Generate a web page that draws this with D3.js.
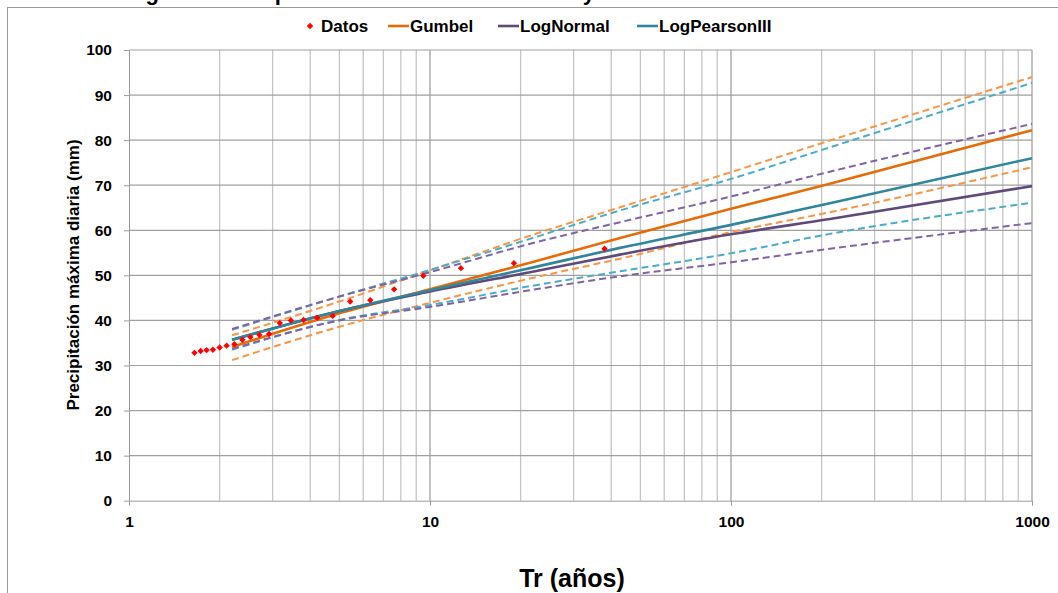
<!DOCTYPE html>
<html>
<head>
<meta charset="utf-8">
<script src="https://cdn.jsdelivr.net/npm/d3@7"></script>
<style>
  body { margin: 0; background: #fff; }
  svg { font-family: "Liberation Sans", Arial, sans-serif; font-weight: bold; }
</style>
</head>
<body>
<svg width="1058" height="593"></svg>
<script>
// observed data (Weibull plotting positions)
const datosT = [1.65, 1.73, 1.81, 1.90, 2.00, 2.11, 2.24, 2.38, 2.53, 2.71, 2.92, 3.17, 3.45, 3.80, 4.22, 4.75, 5.43, 6.33, 7.60, 9.50, 12.67, 19.00, 38.00]
const datosP = [32.8, 33.2, 33.4, 33.5, 34.0, 34.4, 34.7, 35.7, 36.3, 36.8, 37.0, 39.4, 40.0, 40.1, 40.6, 41.0, 44.2, 44.5, 46.9, 49.9, 51.6, 52.7, 55.9]

// fitted curves, read at these return periods
const fitT = [2.2, 5, 10, 21.5, 42.8, 100, 213, 1000]
const gumbel      = [34.1, 41.6, 46.9, 52.8, 58.3, 64.8, 70.3, 82.2]
const gumbelUp    = [36.7, 44.2, 51.1, 58.8, 65.1, 72.9, 79.9, 94.0]
const gumbelLo    = [31.2, 38.6, 43.9, 49.3, 53.7, 59.6, 64.0, 74.0]
const logNormal   = [35.7, 42.1, 46.4, 50.7, 54.6, 59.1, 62.5, 69.8]
const logNormalUp = [38.1, 45.3, 50.7, 57.0, 61.8, 67.5, 73.0, 83.6]
const logNormalLo = [33.7, 40.0, 43.0, 46.7, 49.8, 52.9, 55.9, 61.6]
const lp3         = [35.7, 42.1, 46.7, 51.6, 56.1, 61.2, 66.0, 76.0]
const lp3Up       = [37.9, 45.3, 51.2, 58.1, 64.4, 71.4, 78.4, 92.7]
const lp3Lo       = [33.5, 40.1, 43.4, 47.6, 50.9, 54.9, 59.2, 66.1]

const yTicks = [0, 10, 20, 30, 40, 50, 60, 70, 80, 90, 100]
const xTicks = [1, 10, 100, 1000]
const xMinor = [2, 3, 4, 5, 6, 7, 8, 9, 20, 30, 40, 50, 60, 70, 80, 90, 200, 300, 400, 500, 600, 700, 800, 900]

const svg = d3.select("svg")

// chart frame
svg.append("rect")
  .attr("x", 7.5).attr("y", 7.5)
  .attr("width", 1100).attr("height", 700)
  .attr("fill", "none").attr("stroke", "#9a9a9a")

// title (mostly cut off above the picture)
svg.append("text")
  .attr("x", 126).attr("y", -0.5)
  .style("font-size", "22px")
  .text("Figura 4. Tiempo de retorno vs Pmax diaria y distribuciones")

const x = d3.scaleLog().domain([1, 1000]).range([129, 1032])
const y = d3.scaleLinear().domain([0, 100]).range([500.7, 50])

// gridlines
svg.append("g").selectAll("line")
  .data(xMinor).enter().append("line")
  .attr("x1", d => x(d)).attr("x2", d => x(d))
  .attr("y1", y(0)).attr("y2", y(100))
  .attr("stroke", "#c4c4c4").attr("stroke-width", 1.3)

svg.append("g").selectAll("line")
  .data(yTicks.slice(1)).enter().append("line")
  .attr("x1", x(1)).attr("x2", x(1000))
  .attr("y1", d => y(d)).attr("y2", d => y(d))
  .attr("stroke", "#a0a0a0").attr("stroke-width", 1.2)

svg.append("g").selectAll("line")
  .data(xTicks.slice(1)).enter().append("line")
  .attr("x1", d => x(d)).attr("x2", d => x(d))
  .attr("y1", y(0)).attr("y2", y(100))
  .attr("stroke", "#a0a0a0").attr("stroke-width", 1.3)

// axes
const yAxis = d3.axisLeft(y).tickValues(yTicks).tickSize(5).tickPadding(12).tickSizeOuter(0)
const gy = svg.append("g").attr("transform", `translate(${x(1)},0)`).call(yAxis)
gy.selectAll("text").style("font-size", "15.5px").attr("fill", "#000")
gy.selectAll("line, path").attr("stroke", "#9a9a9a")

const xAxis = d3.axisBottom(x).tickValues(xTicks).tickFormat(d3.format("d")).tickSize(5).tickPadding(10).tickSizeOuter(0)
const gx = svg.append("g").attr("transform", `translate(0,${y(0)})`).call(xAxis)
gx.selectAll("text").style("font-size", "15.5px").attr("fill", "#000")
gx.selectAll("line, path").attr("stroke", "#9a9a9a")

svg.append("text")
  .attr("transform", "translate(79,275) rotate(-90)")
  .attr("text-anchor", "middle")
  .style("font-size", "17px")
  .text("Precipitación máxima diaria (mm)")

svg.append("text")
  .attr("x", 572).attr("y", 587)
  .attr("text-anchor", "middle")
  .style("font-size", "25px")
  .text("Tr (años)")

// fitted curves
const line = d3.line()
  .x((d, i) => x(fitT[i]))
  .y(d => y(d))
  .curve(d3.curveMonotoneX)

const dashed = [
  [gumbelUp, "#f79646"], [gumbelLo, "#f79646"],
  [lp3Up, "#4bacc6"], [lp3Lo, "#4bacc6"],
  [logNormalUp, "#8064a2"], [logNormalLo, "#8064a2"]
]
dashed.forEach(s => {
  svg.append("path")
    .attr("d", line(s[0]))
    .attr("fill", "none")
    .attr("stroke", s[1])
    .attr("stroke-width", 2)
    .attr("stroke-dasharray", "7,4")
})

const solid = [
  [gumbel, "#e46c0a"], [logNormal, "#604a7b"], [lp3, "#31859c"]
]
solid.forEach(s => {
  svg.append("path")
    .attr("d", line(s[0]))
    .attr("fill", "none")
    .attr("stroke", s[1])
    .attr("stroke-width", 2.6)
})

// data points
const diamond = d3.symbol().type(d3.symbolDiamond2).size(26)
svg.append("g").selectAll("path")
  .data(datosP).enter().append("path")
  .attr("d", diamond)
  .attr("transform", (d, i) => `translate(${x(datosT[i])},${y(d)})`)
  .attr("fill", "#ff0000")

// legend
const legendNames = ["Datos", "Gumbel", "LogNormal", "LogPearsonIII"]
const legendColors = ["#ff0000", "#e46c0a", "#604a7b", "#31859c"]
const legendX = [299, 388, 498, 637]
const leg = svg.append("g").attr("transform", "translate(0,26)")
legendNames.forEach((name, i) => {
  if (i === 0) {
    leg.append("path").attr("d", diamond)
      .attr("transform", `translate(${legendX[i] + 11},0)`)
      .attr("fill", legendColors[i])
  } else {
    leg.append("line")
      .attr("x1", legendX[i]).attr("x2", legendX[i] + 21)
      .attr("stroke", legendColors[i]).attr("stroke-width", 2.6)
  }
  leg.append("text")
    .attr("x", legendX[i] + 22).attr("y", 6)
    .style("font-size", "17px")
    .text(name)
})
</script>
</body>
</html>
